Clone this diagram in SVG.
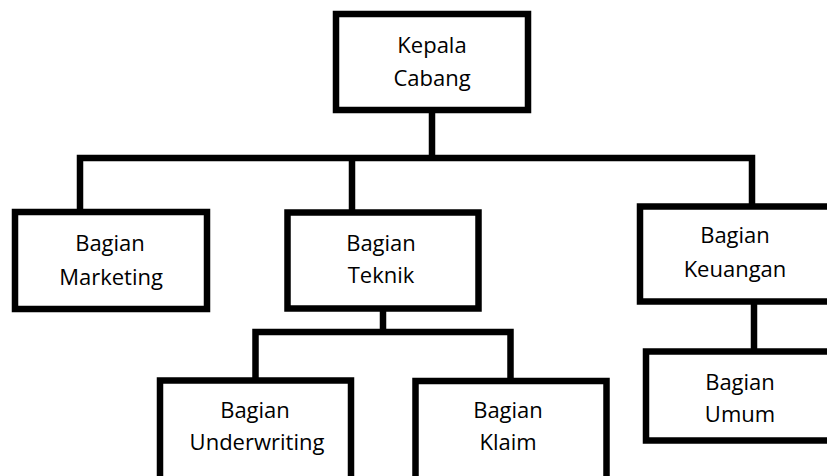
<svg xmlns="http://www.w3.org/2000/svg" width="827" height="476" viewBox="0 0 827 476">
<style>
.box{fill:#fff;stroke:#000;stroke-width:6.5}
.ln{fill:none;stroke:#000;stroke-width:6.5;stroke-linejoin:miter;stroke-linecap:butt}
text{font-family:"Open Sans","Noto Sans","Liberation Sans",sans-serif;font-size:22px;fill:#000;text-anchor:middle}
</style>
<rect width="827" height="476" fill="#fff"/>
<g id="connectors">
<path class="ln" d="M432,110 V158"/>
<path class="ln" d="M80,210 V158 H752 V204"/>
<path class="ln" d="M352,158 V210"/>
<path class="ln" d="M383,308 V332"/>
<path class="ln" d="M255.5,378 V332 H510.5 V378"/>
<path class="ln" d="M754,301.5 V349"/>
</g>
<g id="kepala-cabang">
<rect class="box" x="336" y="14" width="192" height="96"/>
<text x="432" y="53">Kepala</text>
<text x="432" y="86">Cabang</text>
</g>
<g id="bagian-marketing">
<rect class="box" x="15" y="212" width="192" height="97"/>
<text x="110" y="251">Bagian</text>
<text x="111" y="285">Marketing</text>
</g>
<g id="bagian-teknik">
<rect class="box" x="287.5" y="212.5" width="191" height="96"/>
<text x="381" y="251">Bagian</text>
<text x="381" y="283">Teknik</text>
</g>
<g id="bagian-keuangan">
<rect class="box" x="640" y="206.5" width="191" height="95"/>
<text x="735" y="243">Bagian</text>
<text x="735" y="277">Keuangan</text>
</g>
<g id="bagian-umum">
<rect class="box" x="646" y="351.5" width="190" height="89"/>
<text x="740" y="390">Bagian</text>
<text x="740" y="422">Umum</text>
</g>
<g id="bagian-underwriting">
<rect class="box" x="160" y="380.5" width="191" height="100"/>
<text x="255" y="418">Bagian</text>
<text x="257" y="450">Underwriting</text>
</g>
<g id="bagian-klaim">
<rect class="box" x="415.5" y="381" width="191" height="100"/>
<text x="508" y="418">Bagian</text>
<text x="508" y="450">Klaim</text>
</g>
</svg>
